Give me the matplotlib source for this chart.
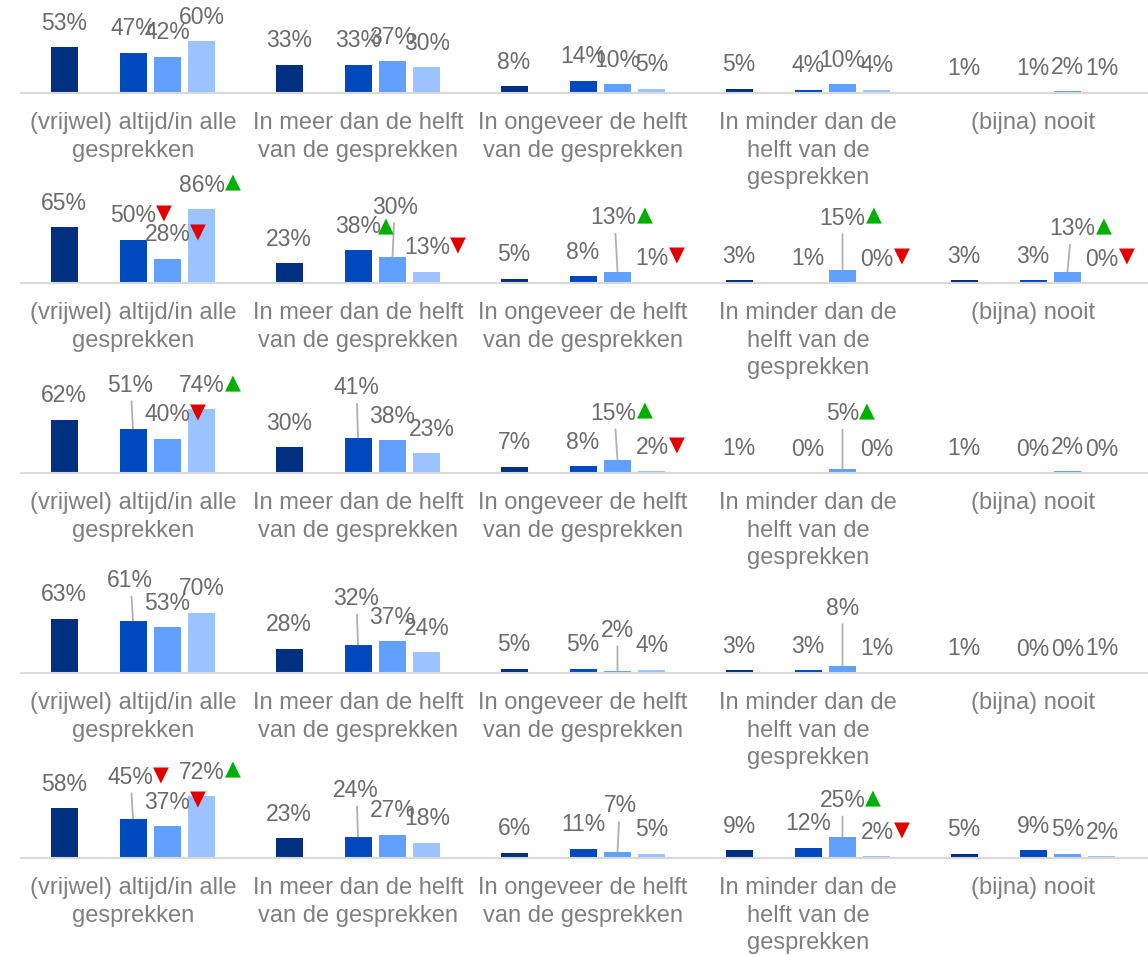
import matplotlib
matplotlib.use("Agg")
import matplotlib.pyplot as plt

# ---------------- data ----------------
categories = [
    "(vrijwel) altijd/in alle\ngesprekken",
    "In meer dan de helft\nvan de gesprekken",
    "In ongeveer de helft\nvan de gesprekken",
    "In minder dan de\nhelft van de\ngesprekken",
    "(bijna) nooit",
]

p1_dark = [53, 33, 8, 5, 1]
p1_blue = [47, 33, 14, 4, 1]
p1_mid = [42, 37, 10, 10, 2]
p1_light = [60, 30, 5, 4, 1]

p2_dark = [65, 23, 5, 3, 3]
p2_blue = [50, 38, 8, 1, 3]
p2_mid = [28, 30, 13, 15, 13]
p2_light = [86, 13, 1, 0, 0]

p3_dark = [62, 30, 7, 1, 1]
p3_blue = [51, 41, 8, 0, 0]
p3_mid = [40, 38, 15, 5, 2]
p3_light = [74, 23, 2, 0, 0]

p4_dark = [63, 28, 5, 3, 1]
p4_blue = [61, 32, 5, 3, 0]
p4_mid = [53, 37, 2, 8, 0]
p4_light = [70, 24, 4, 1, 1]

p5_dark = [58, 23, 6, 9, 5]
p5_blue = [45, 24, 11, 12, 9]
p5_mid = [37, 27, 7, 25, 5]
p5_light = [72, 18, 5, 2, 2]

# significance markers: (panel, series, category) -> 'up' / 'down'
markers = {
    (1, 1, 0): "down", (1, 2, 0): "down", (1, 3, 0): "up",
    (1, 2, 1): "up", (1, 3, 1): "down",
    (1, 2, 2): "up", (1, 3, 2): "down",
    (1, 2, 3): "up", (1, 3, 3): "down",
    (1, 2, 4): "up", (1, 3, 4): "down",
    (2, 2, 0): "down", (2, 3, 0): "up",
    (2, 2, 2): "up", (2, 3, 2): "down",
    (2, 2, 3): "up",
    (4, 1, 0): "down", (4, 2, 0): "down", (4, 3, 0): "up",
    (4, 2, 3): "up", (4, 3, 3): "down",
}

panels = [
    [p1_dark, p1_blue, p1_mid, p1_light],
    [p2_dark, p2_blue, p2_mid, p2_light],
    [p3_dark, p3_blue, p3_mid, p3_light],
    [p4_dark, p4_blue, p4_mid, p4_light],
    [p5_dark, p5_blue, p5_mid, p5_light],
]

# ---------------- layout / style ----------------
# label placement tweaks (pixels): (panel, series, cat) -> (extra lift, dx)
label_moves = {
    (1, 2, 1): (26, 3), (1, 2, 2): (30, -4), (1, 2, 3): (28, 0), (1, 2, 4): (19, 5),
    (2, 1, 0): (20, -3), (2, 1, 1): (26, -2), (2, 2, 2): (23, -4), (2, 2, 3): (31, 0),
    (2, 3, 1): (0, 5),
    (3, 1, 0): (16, -3), (3, 1, 1): (23, -2), (3, 2, 2): (17, 0), (3, 2, 3): (34, 0),
    (4, 1, 0): (18, -3), (4, 1, 1): (23, -2), (4, 2, 2): (22, 3), (4, 2, 3): (12, 0),
}
wrapped = {(1, 2, 1)}  # label where the marker wraps onto a second line

W, H, DPI = 1148, 955, 100
FS = 16.5
CAT_FS = 17
LABEL_C = "#6b6b6b"
CAT_C = "#7f7f7f"
UP_C = "#00b000"
DOWN_C = "#e00000"
colors = ["#00307f", "#0049bd", "#62a0ff", "#9cc2ff"]
slot_idx = [-2, 0, 1, 2]
slot = 0.1533
bar_w = 0.12
baselines = [93, 283, 473, 673, 858]
ax_left, ax_w, ax_h = 20.5, 1127, 92
px_per_pct = 0.86
PT = 72.0 / DPI

plt.rcParams["font.family"] = ["Liberation Sans", "DejaVu Sans"]
fig = plt.figure(figsize=(W / DPI, H / DPI), dpi=DPI)

for p, series in enumerate(panels):
    b = baselines[p]
    ax = fig.add_axes([ax_left / W, (H - b) / H, ax_w / W, ax_h / H])
    ax.patch.set_visible(False)
    ax.set_xlim(-0.5, 4.5 + (ax_w - 1125) / 225)
    ax.set_ylim(0, ax_h / px_per_pct)
    for s in ["top", "left", "right"]:
        ax.spines[s].set_visible(False)
    ax.spines["bottom"].set_color("#d9d9d9")
    ax.spines["bottom"].set_linewidth(1.5)
    ax.set_yticks([])
    ax.set_xticks(range(len(categories)))
    ax.set_xticklabels(categories, fontsize=CAT_FS, color=CAT_C, linespacing=1.3)
    ax.tick_params(axis="x", length=0, pad=14)

    for i, vals in enumerate(series):
        xs = [k + slot_idx[i] * slot for k in range(len(vals))]
        ax.bar(xs, vals, width=bar_w, color=colors[i], zorder=2)
        for j, v in enumerate(vals):
            lift, dx = label_moves.get((p, i, j), (0, 0))
            t = ax.annotate(f"{v}%", xy=(xs[j], v), xytext=(dx * PT, (24 + lift) * PT),
                            textcoords="offset points", ha="center", va="center",
                            fontsize=FS, color=LABEL_C, annotation_clip=False, zorder=5)
            if lift > 0:
                top = 24 + lift - 16
                ax.annotate("", xy=(xs[j], v), xytext=(dx * PT * 0.5, top * PT),
                            textcoords="offset points", annotation_clip=False,
                            arrowprops=dict(arrowstyle="-", color="#b0b0b0", lw=1.3,
                                            shrinkA=0, shrinkB=0), zorder=1)
            m = markers.get((p, i, j))
            if m:
                sym = "\u25B2" if m == "up" else "\u25BC"
                col = UP_C if m == "up" else DOWN_C
                if (p, i, j) in wrapped:
                    ax.annotate(sym, xy=(0.3, 0.1), xycoords=t, xytext=(0, 0),
                                textcoords="offset points", ha="center", va="top",
                                fontsize=FS * 0.9, color=col, family="DejaVu Sans",
                                annotation_clip=False, zorder=6)
                else:
                    ax.annotate(sym, xy=(1, 0.6), xycoords=t, xytext=(0, 0),
                                textcoords="offset points", ha="left", va="center",
                                fontsize=FS * 0.9, color=col, family="DejaVu Sans",
                                annotation_clip=False, zorder=6)

fig.savefig("out.png", dpi=DPI)
